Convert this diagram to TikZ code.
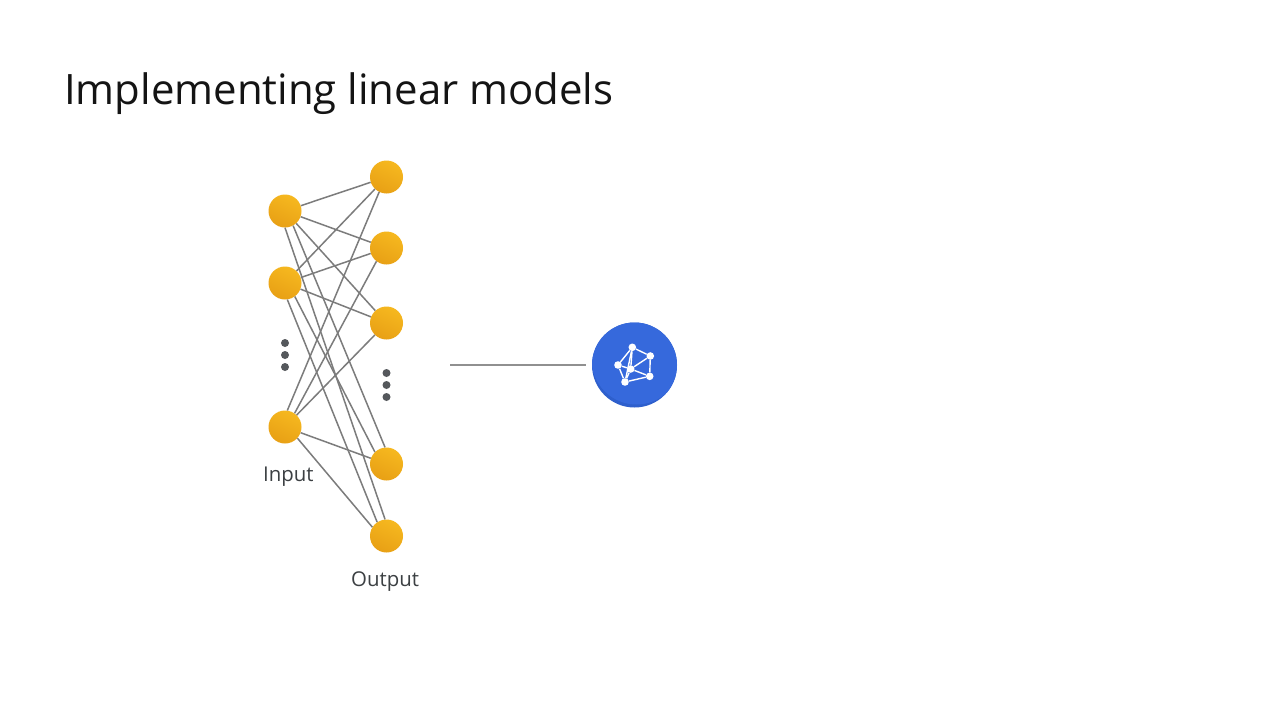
\documentclass[tikz,border=0pt]{standalone}
\usepackage{fontspec}
\setmainfont{Open Sans}
\begin{document}
\begin{tikzpicture}[x=1pt,y=-1pt,
  neuron/.style={circle,inner sep=0pt,minimum size=33pt,shading=axis,top color=ballA,bottom color=ballB,shading angle=-25},
  link/.style={draw=linkgray,line width=1.5pt},
  longlink/.style={draw=linkgray!85,line width=1.1pt},
  vdot/.style={circle,inner sep=0pt,minimum size=8pt,fill=dotgray},
  icondot/.style={circle,inner sep=0pt,minimum size=7.6pt,fill=white},
  iconlink/.style={draw=white,line width=1.4pt},
  lab/.style={anchor=base west,inner sep=0pt,text=labelgray,font=\fontsize{20.4pt}{22pt}\selectfont},
  titletext/.style={anchor=base west,inner sep=0pt,text=black!92,font=\fontsize{41.9pt}{44pt}\selectfont}]
\definecolor{ballA}{HTML}{F6B81F}
\definecolor{ballB}{HTML}{E8A015}
\definecolor{linkgray}{HTML}{7C7C7C}
\definecolor{dotgray}{HTML}{55585C}
\definecolor{labelgray}{HTML}{3C4043}
\definecolor{blueA}{HTML}{3669DC}
\definecolor{blueB}{HTML}{2E5FCC}
\useasboundingbox (0,0) rectangle (1280,720);
\fill[white] (0,0) rectangle (1280,720);
\node[titletext] (title) at (64,104.5) {Implementing linear models};
\node[neuron] (i1) at (285,211) {};
\node[neuron] (i2) at (285,283) {};
\node[neuron] (i3) at (285,427) {};
\node[neuron] (o1) at (386.5,177) {};
\node[neuron] (o2) at (386.5,248) {};
\node[neuron] (o3) at (386.5,323) {};
\node[neuron] (o4) at (386.5,464) {};
\node[neuron] (o5) at (386.5,536) {};
\foreach \a/\b in {i1/o1,i1/o2,i1/o3,i2/o1,i2/o2,i2/o3,i3/o3,i3/o4}
  \draw[link] (\a) -- (\b);
\draw[link] (i1.-90) -- (o5.95);
\draw[link] (i1.-61) -- (o4.95);
\draw[link] (i2.-82) -- (o5.124);
\draw[link] (i2.-54) -- (o4.134);
\draw[link] (i3.82) -- (o1.-116);
\draw[link] (i3.55) -- (o2.-127);
\draw[link] (i3.-42) -- (o5.148);
\node[vdot] (d1) at (285,343) {};
\node[vdot] (d2) at (285,355) {};
\node[vdot] (d3) at (285,367) {};
\node[vdot] (d4) at (386.5,373) {};
\node[vdot] (d5) at (386.5,385) {};
\node[vdot] (d6) at (386.5,397) {};
\node[lab] (input) at (263,481) {Input};
\node[lab] (output) at (351,586) {Output};
\node[circle,inner sep=0pt,minimum size=85pt,fill=blueB] (net) at (634.5,365) {};
\begin{scope}
  \clip (634.5,365) circle (42.5);
  \fill[blueA] (636.5,359.5) circle (45);
\end{scope}
\coordinate (s) at (450,365);
\coordinate (e) at (586,365);
\draw[longlink] (s) -- (e);
\node[icondot] (t) at (632.3,347.3) {};
\node[icondot] (r) at (650.3,356) {};
\node[icondot] (l) at (618,365) {};
\node[icondot] (c) at (630.7,369) {};
\node[icondot] (q) at (649.7,376.3) {};
\node[icondot] (b) at (625,382) {};
\foreach \a/\b in {t/r,t/l,t/c,t/b,r/c,r/q,c/l,c/q,c/b,l/b,q/b}
  \draw[iconlink] (\a) -- (\b);
\end{tikzpicture}
\end{document}
